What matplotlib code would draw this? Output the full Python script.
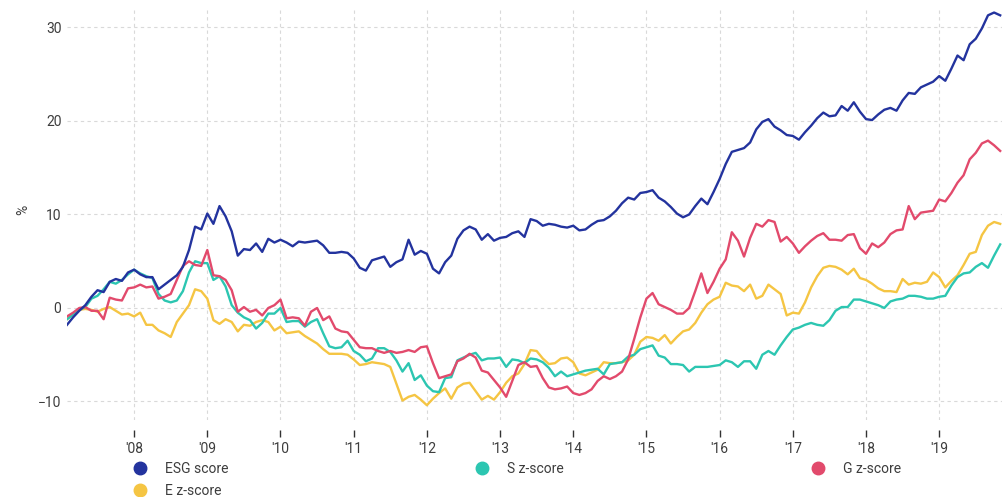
import matplotlib
matplotlib.use("Agg")
import matplotlib.pyplot as plt
from matplotlib.lines import Line2D
import pandas as pd
import numpy as np

plt.rcParams['font.family'] = ['Roboto', 'DejaVu Sans']

# Monthly observations, Feb 2007 .. Nov 2019
start_month = "2007-02-01"
n_months = 154

esg_score = [
    -1.8, -1.0, -0.3, 0.3, 1.2, 1.9, 1.7, 2.8, 3.1, 2.9, 3.8, 4.1,
    3.6, 3.3, 3.3, 2.0, 2.5, 3.0, 3.5, 4.4, 6.2, 8.7, 8.4, 10.1,
    9.0, 10.9, 9.8, 8.2, 5.6, 6.3, 6.2, 6.9, 6.0, 7.4, 7.0, 7.3,
    7.0, 6.6, 7.1, 7.0, 7.1, 7.2, 6.7, 5.9, 5.9, 6.0, 5.9, 5.3,
    4.3, 4.0, 5.1, 5.3, 5.5, 4.4, 4.9, 5.2, 7.3, 5.7, 6.1, 5.8,
    4.2, 3.7, 4.9, 5.6, 7.4, 8.3, 8.7, 8.4, 7.3, 7.9, 7.2, 7.5,
    7.6, 8.0, 8.2, 7.6, 9.5, 9.3, 8.8, 9.0, 8.9, 8.7, 8.6, 8.8,
    8.3, 8.4, 8.9, 9.3, 9.4, 9.8, 10.4, 11.2, 11.8, 11.6, 12.3, 12.4,
    12.6, 11.8, 11.4, 10.8, 10.1, 9.7, 10.0, 10.9, 11.7, 11.1, 12.4, 13.8,
    15.4, 16.7, 16.9, 17.1, 17.7, 19.1, 19.9, 20.2, 19.4, 19.0, 18.5, 18.4,
    18.0, 18.8, 19.5, 20.3, 20.9, 20.5, 20.6, 21.6, 21.1, 22.0, 21.0, 20.2,
    20.1, 20.7, 21.2, 21.4, 21.1, 22.2, 23.0, 22.9, 23.6, 23.9, 24.2, 24.8,
    24.3, 25.6, 27.0, 26.5, 28.2, 28.8, 29.9, 31.3, 31.6, 31.3,
]

e_zscore = [
    -1.2, -0.7, -0.2, -0.1, -0.2, -0.4, -0.1, 0.1, -0.3, -0.7, -0.6, -0.9,
    -0.5, -1.8, -1.8, -2.4, -2.7, -3.1, -1.5, -0.6, 0.3, 2.0, 1.8, 1.0,
    -1.3, -1.7, -1.2, -1.5, -2.5, -1.8, -1.9, -1.5, -1.3, -1.5, -2.4, -2.0,
    -2.7, -2.6, -2.5, -3.0, -3.4, -3.8, -4.4, -4.9, -4.9, -4.9, -5.0, -5.5,
    -6.1, -6.0, -5.8, -5.9, -6.0, -6.3, -8.1, -9.9, -9.5, -9.3, -9.8, -10.4,
    -9.7, -9.1, -8.6, -9.7, -8.5, -8.1, -8.0, -8.9, -9.8, -9.4, -9.8, -9.0,
    -8.0, -7.3, -7.0, -6.0, -4.5, -4.6, -5.4, -6.0, -5.9, -5.4, -5.3, -5.8,
    -7.0, -7.2, -6.9, -6.6, -5.8, -5.9, -5.9, -5.8, -5.6, -5.0, -3.6, -3.1,
    -3.2, -3.5, -2.9, -3.8, -3.1, -2.5, -2.3, -1.6, -0.5, 0.4, 0.9, 1.2,
    2.7, 2.4, 2.3, 1.8, 2.5, 1.0, 1.3, 2.5, 2.0, 1.5, -0.8, -0.5,
    -0.6, 0.6, 2.2, 3.4, 4.3, 4.5, 4.4, 4.1, 3.6, 4.2, 3.2, 3.0,
    2.6, 2.1, 1.8, 1.8, 1.7, 3.1, 2.5, 2.7, 2.6, 2.8, 3.8, 3.3,
    2.2, 2.9, 3.5, 4.6, 5.8, 6.0, 7.8, 8.8, 9.2, 9.0,
]

s_zscore = [
    -1.2, -0.7, -0.2, 0.1, 1.0, 1.3, 2.0, 2.8, 2.6, 3.0, 3.6, 4.1,
    3.7, 3.4, 3.2, 1.5, 0.8, 0.6, 0.8, 1.8, 3.8, 5.0, 4.8, 4.8,
    3.0, 3.4, 2.3, 0.3, -0.5, -1.0, -1.3, -2.2, -1.6, -0.6, -0.6, 0.0,
    -1.5, -1.4, -1.4, -2.0, -1.5, -1.2, -2.7, -4.1, -4.3, -4.2, -3.5, -4.6,
    -5.0, -5.7, -5.4, -4.3, -4.3, -4.7, -5.6, -6.8, -5.9, -7.7, -7.2, -8.3,
    -8.9, -9.0, -7.5, -7.4, -5.6, -5.3, -5.0, -4.8, -5.6, -5.4, -5.4, -5.3,
    -6.3, -5.5, -5.6, -5.9, -5.4, -5.5, -5.8, -6.4, -7.3, -6.8, -7.3, -7.1,
    -6.9, -6.7, -6.6, -6.5, -7.1, -6.0, -5.9, -5.8, -5.2, -5.0, -4.4, -4.2,
    -4.0, -5.1, -5.3, -6.0, -6.0, -6.1, -6.8, -6.3, -6.3, -6.3, -6.2, -6.1,
    -5.6, -5.8, -6.3, -5.7, -5.7, -6.5, -5.0, -4.6, -5.0, -4.0, -3.1, -2.3,
    -2.1, -1.8, -1.6, -1.8, -1.9, -1.3, -0.3, 0.1, 0.1, 0.9, 0.9, 0.7,
    0.5, 0.3, 0.0, 0.7, 0.9, 1.0, 1.3, 1.3, 1.2, 1.0, 1.0, 1.2,
    1.3, 2.4, 3.3, 3.7, 3.8, 4.4, 4.8, 4.3, 5.6, 6.8,
]

g_zscore = [
    -0.9, -0.5, 0.0, 0.1, -0.3, -0.3, -1.2, 1.1, 0.9, 0.8, 2.1, 2.2,
    2.5, 2.2, 2.3, 1.0, 1.2, 1.5, 3.0, 4.5, 5.0, 4.6, 4.5, 6.2,
    3.5, 3.4, 3.0, 1.9, -0.4, 0.1, -0.4, -0.2, -0.8, 0.0, 0.3, 0.9,
    -1.1, -1.0, -1.1, -1.9, -0.4, 0.0, -1.3, -0.9, -2.2, -2.5, -2.6, -3.4,
    -4.2, -4.3, -4.3, -4.6, -4.8, -4.6, -4.8, -4.7, -4.5, -4.7, -4.2, -4.1,
    -5.9, -7.5, -7.3, -7.1, -5.7, -5.4, -4.9, -5.3, -6.7, -6.9, -7.7, -8.5,
    -9.5, -7.8, -6.1, -5.8, -6.3, -6.2, -7.5, -8.5, -8.7, -8.6, -8.4, -9.1,
    -9.3, -9.1, -8.7, -7.8, -7.3, -7.6, -7.3, -6.8, -5.5, -3.3, -1.0, 1.0,
    1.6, 0.4, 0.1, -0.2, -0.6, -0.6, 0.0, 1.8, 3.7, 1.6, 2.8, 4.2,
    5.2, 8.1, 7.2, 5.5, 7.5, 9.0, 8.7, 9.4, 9.2, 7.1, 7.6, 6.9,
    5.9, 6.6, 7.2, 7.7, 8.0, 7.3, 7.3, 7.2, 7.8, 7.9, 6.4, 5.8,
    6.9, 6.5, 7.0, 7.9, 8.3, 8.4, 10.9, 9.5, 10.2, 10.3, 10.4, 11.6,
    11.4, 12.3, 13.4, 14.2, 15.9, 16.6, 17.6, 17.9, 17.4, 16.8,
]

year_ticks = list(range(2008, 2020))
year_labels = ["'08", "'09", "'10", "'11", "'12", "'13", "'14", "'15", "'16", "'17", "'18", "'19"]
y_ticks = [-10, 0, 10, 20, 30]

series_names = ["ESG score", "E z-score", "S z-score", "G z-score"]
colors = {"ESG score": "#23339e", "E z-score": "#f5c543",
          "S z-score": "#2cc6b1", "G z-score": "#e24a6c"}

dates = pd.date_range(start_month, periods=n_months, freq="MS")
x = dates.year + (dates.month - 1) / 12.0

W, H = 1002, 497
fig = plt.figure(figsize=(W / 100, H / 100), dpi=100)
ax = fig.add_axes([67 / W, 1 - 420 / H, 1 - 67 / W, (420 - 10) / H])

data = {"ESG score": esg_score, "E z-score": e_zscore,
        "S z-score": s_zscore, "G z-score": g_zscore}
order = ["E z-score", "S z-score", "G z-score", "ESG score"]
for name in order:
    ax.plot(x, data[name], color=colors[name], lw=1.7, solid_joinstyle="round", zorder=3)

ax.set_xlim(2007.083, 2019.858)
ax.set_ylim(-11.98, 31.87)

ax.set_xticks(year_ticks)
ax.set_xticklabels(year_labels)
for lbl in ax.get_xticklabels():
    lbl.set_horizontalalignment("left")
ax.set_yticks(y_ticks)

for s in ax.spines.values():
    s.set_visible(False)
ax.spines["bottom"].set_position(("outward", 7))

ax.grid(True, color="#d9d9d9", lw=0.8, linestyle=(0, (3, 3)), zorder=0)
ax.tick_params(axis="y", length=0, pad=4, labelsize=10, labelcolor="#3d3d3d")
ax.tick_params(axis="x", length=5, width=1, color="#333333", pad=4,
               labelsize=10, labelcolor="#3d3d3d")

fig.text(23 / W, 1 - 210 / H, "%", rotation=90, ha="center", va="center",
         fontsize=10, color="#3d3d3d")

def handle(name):
    return Line2D([], [], marker="o", linestyle="none", markersize=9,
                  markerfacecolor=colors[name], markeredgecolor=colors[name])

leg_kw = dict(frameon=False, loc="upper left", fontsize=10, handlelength=1.0,
              handletextpad=1.3, borderpad=0, borderaxespad=0, labelspacing=0.6,
              labelcolor="#3d3d3d")
groups = [(["ESG score", "E z-score"], 133), (["S z-score"], 475), (["G z-score"], 811)]
for names, left in groups:
    fig.legend([handle(n) for n in names], names,
               bbox_to_anchor=(left / W, 1 - 462 / H), **leg_kw)

fig.savefig("out.png", dpi=100)
